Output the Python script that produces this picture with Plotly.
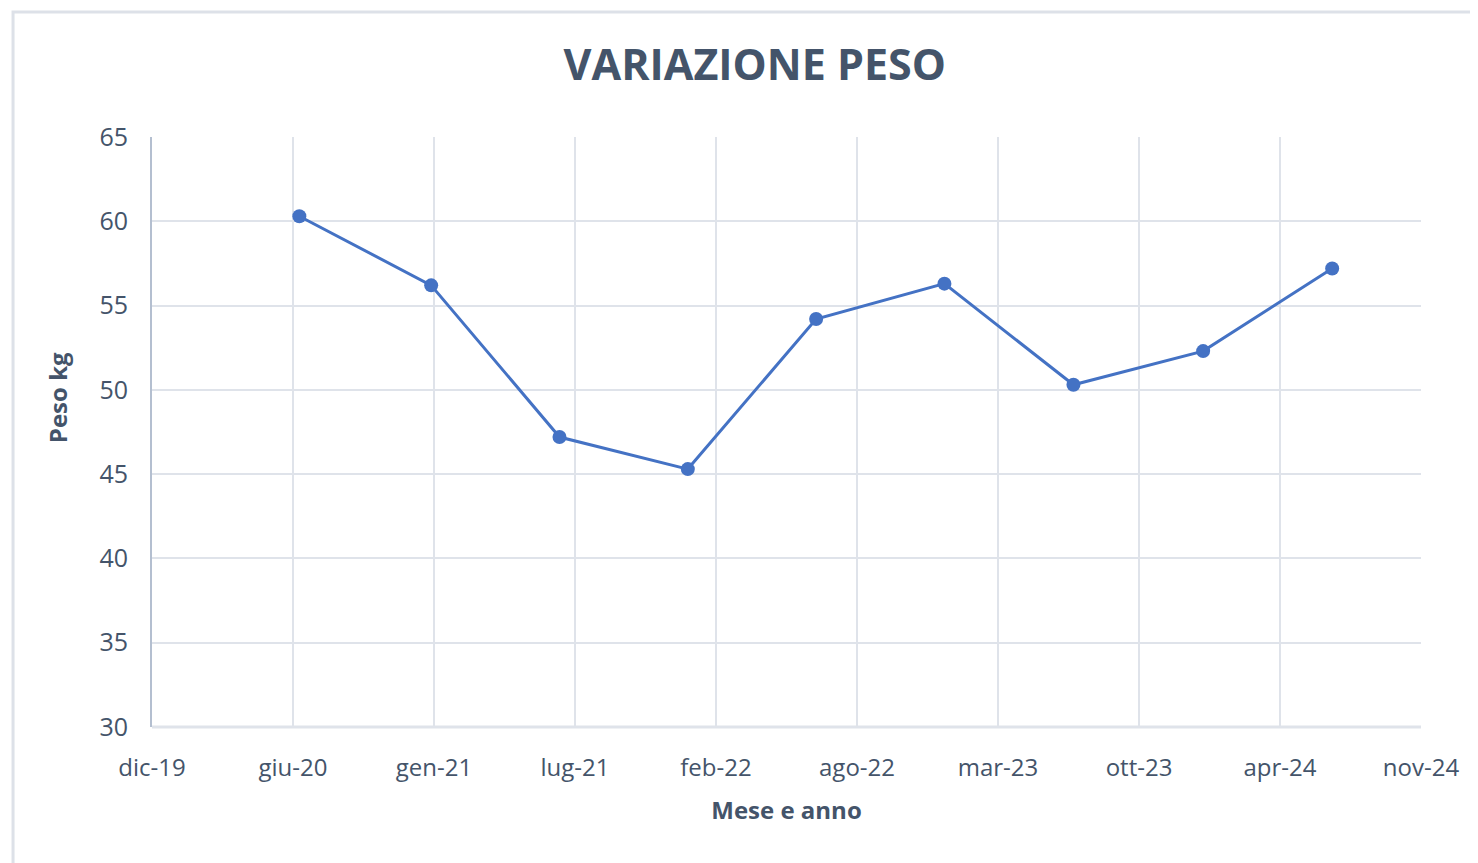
import plotly.graph_objects as go

# Data
dates = ["2020-06-27", "2020-12-31", "2021-07-01", "2021-12-30", "2022-06-30",
         "2022-12-29", "2023-06-30", "2023-12-31", "2024-07-01"]
peso = [60.3, 56.2, 47.2, 45.3, 54.2, 56.3, 50.3, 52.3, 57.2]

tick_dates = ["2019-12-01", "2020-06-18", "2021-01-04", "2021-07-23", "2022-02-08",
              "2022-08-27", "2023-03-15", "2023-10-01", "2024-04-18", "2024-11-04"]
tick_labels = ["dic-19", "giu-20", "gen-21", "lug-21", "feb-22",
               "ago-22", "mar-23", "ott-23", "apr-24", "nov-24"]
y_ticks = [30, 35, 40, 45, 50, 55, 60, 65]

FONT = "Open Sans"
TXT = "#44546a"
GRID = "#dfe3ea"

fig = go.Figure()
fig.add_trace(go.Scatter(
    x=dates, y=peso, mode="lines+markers",
    line=dict(color="#4472c4", width=3),
    marker=dict(color="#4472c4", size=14),
    showlegend=False,
))

fig.update_layout(
    width=1470, height=855,
    paper_bgcolor="white", plot_bgcolor="white",
    margin=dict(l=144, r=57, t=129, b=136),
    font=dict(family=FONT, color=TXT),
    title=dict(text="<b>VARIAZIONE PESO</b>", x=0.508, xanchor="center",
               y=0.9333, yanchor="middle",
               font=dict(family=FONT, size=43, color=TXT)),
    xaxis=dict(
        type="date", range=[tick_dates[0], tick_dates[-1]],
        tickvals=tick_dates, ticktext=tick_labels,
        showgrid=True, gridcolor=GRID, gridwidth=2,
        showline=False, zeroline=False,
        tickfont=dict(family=FONT, size=24, color=TXT),
        ticks="outside", ticklen=19, tickcolor="rgba(0,0,0,0)",
        title=dict(text="<b>Mese e anno</b>", standoff=20,
                   font=dict(family=FONT, size=24, color=TXT)),
    ),
    yaxis=dict(
        range=[30, 65], tickvals=y_ticks,
        showgrid=True, gridcolor=GRID, gridwidth=2,
        showline=True, linecolor="#b4bfd0", linewidth=2,
        zeroline=False,
        tickfont=dict(family=FONT, size=25, color=TXT),
        ticks="outside", ticklen=17, tickcolor="rgba(0,0,0,0)",
    ),
    annotations=[
        dict(text="<b>Peso kg</b>", textangle=-90, showarrow=False,
             xref="paper", yref="paper", x=-0.0749, y=0.559,
             xanchor="center", yanchor="middle",
             font=dict(family=FONT, size=24, color=TXT)),
    ],
    shapes=[
        dict(type="rect", xref="paper", yref="paper",
             x0=-0.1095, x1=1.06, y0=-0.26, y1=1.2119,
             line=dict(color="#dde1e8", width=3), fillcolor="rgba(0,0,0,0)",
             layer="below"),
        dict(type="line", xref="paper", yref="paper",
             x0=0, x1=1, y0=0, y1=0,
             line=dict(color=GRID, width=3)),
    ],
)

fig.write_html("out.html")
